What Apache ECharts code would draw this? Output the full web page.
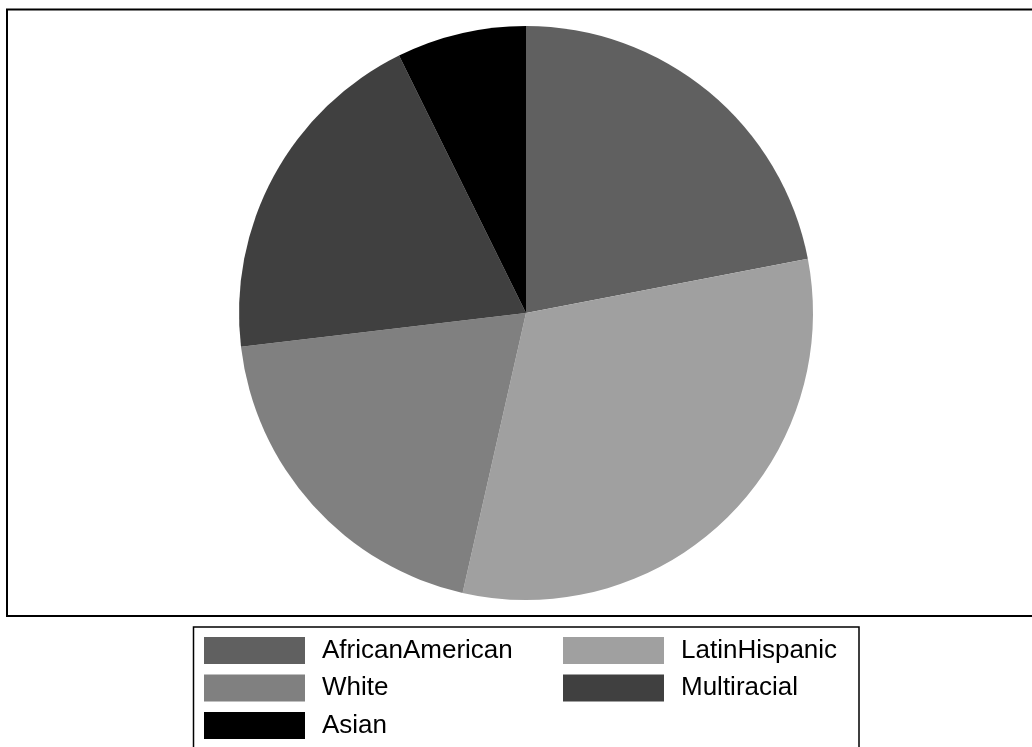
<!DOCTYPE html>
<html>
<head>
<meta charset="utf-8">
<script src="https://cdn.jsdelivr.net/npm/echarts@6/dist/echarts.min.js"></script>
<style>
  html, body { margin: 0; padding: 0; background: #fff; }
  #chart { width: 1032px; height: 747px; }
</style>
</head>
<body>
<div id="chart"></div>
<script>
// Share of each group (percent)
const categories = ['AfricanAmerican', 'LatinHispanic', 'White', 'Multiracial', 'Asian'];
const shares = [22.0, 31.6, 19.6, 19.6, 7.3];
const sliceColors = ['#606060', '#a0a0a0', '#808080', '#404040', '#000000'];

// Legend columns (read row by row: left, right)
const legendLeftColumn = ['AfricanAmerican', 'White', 'Asian'];
const legendRightColumn = ['LatinHispanic', 'Multiracial'];

const chart = echarts.init(document.getElementById('chart'), null, { renderer: 'canvas' });

const legendBase = {
  type: 'plain',
  orient: 'vertical',
  top: 637,
  height: 110,
  padding: 0,
  itemWidth: 101,
  itemHeight: 27,
  itemGap: 10.5,
  icon: 'rect',
  selectedMode: false,
  textStyle: {
    fontFamily: 'Liberation Sans, Arial, sans-serif',
    fontSize: 26,
    color: '#000',
    padding: [0, 0, 0, 12]
  }
};

chart.setOption({
  animation: false,
  color: sliceColors,
  graphic: [
    {
      type: 'rect',
      shape: { x: 7, y: 9.5, width: 1040, height: 606.5 },
      style: { fill: 'none', stroke: '#000', lineWidth: 2 },
      z: 10
    },
    {
      type: 'rect',
      shape: { x: 193.5, y: 627, width: 665.5, height: 140 },
      style: { fill: 'none', stroke: '#000', lineWidth: 1.5 },
      z: 10
    }
  ],
  legend: [
    Object.assign({}, legendBase, { left: 204, data: legendLeftColumn }),
    Object.assign({}, legendBase, { left: 563, data: legendRightColumn })
  ],
  series: [{
    type: 'pie',
    center: [526, 313],
    radius: 287,
    startAngle: 90,
    clockwise: true,
    label: { show: false },
    labelLine: { show: false },
    itemStyle: { borderWidth: 0 },
    emphasis: { disabled: true },
    data: categories.map((name, i) => ({ name, value: shares[i] }))
  }]
});
</script>
</body>
</html>
